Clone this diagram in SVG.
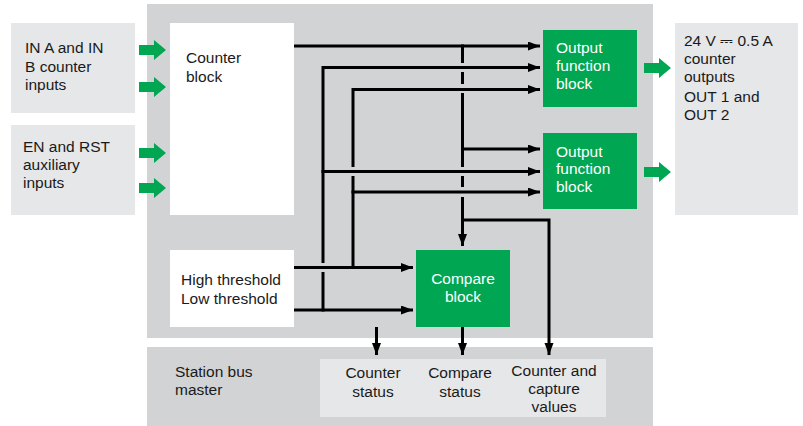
<svg xmlns="http://www.w3.org/2000/svg" width="803" height="426" viewBox="0 0 803 426">
<defs>
<style>
text{font-family:"Liberation Sans",Arial,sans-serif;font-size:15.5px;fill:#1a1a1a}
.wt{fill:#ffffff}
.mid{text-anchor:middle}
.panel{fill:#d1d3d4}
.light{fill:#e6e7e8}
.white{fill:#ffffff}
.green{fill:#00a651}
.ln{stroke:#000;stroke-width:3;fill:none}
.arr{stroke:#000;stroke-width:3;fill:none;marker-end:url(#ah)}
</style>
<marker id="ah" markerUnits="userSpaceOnUse" markerWidth="12" markerHeight="10" refX="12" refY="4.5" orient="auto">
<path d="M0,0 L12,4.5 L0,9 z" fill="#000"/>
</marker>
<path id="garrow" d="M0,-5 L15,-5 L15,-10 L27,0 L15,10 L15,5 L0,5 z" fill="#00a651"/>
</defs>

<rect class="panel" x="147" y="4" width="506" height="334"/>
<rect class="panel" x="147" y="347" width="506" height="79"/>

<g id="in-ab">
<rect class="light" x="11" y="23" width="124" height="90"/>
<text x="25" y="53">IN A and IN</text>
<text x="25" y="72">B counter</text>
<text x="25" y="90">inputs</text>
</g>
<g id="in-en-rst">
<rect class="light" x="11" y="125" width="124" height="90"/>
<text x="23" y="152">EN and RST</text>
<text x="23" y="170">auxiliary</text>
<text x="23" y="188">inputs</text>
</g>
<g id="counter-block">
<rect class="white" x="170" y="23" width="124" height="192"/>
<text x="186" y="63">Counter</text>
<text x="186" y="82">block</text>
</g>
<g id="output-fb-1">
<rect class="green" x="543" y="30" width="94" height="77"/>
<text class="wt" x="556" y="53">Output</text>
<text class="wt" x="556" y="71">function</text>
<text class="wt" x="556" y="89">block</text>
</g>
<g id="output-fb-2">
<rect class="green" x="543" y="133" width="94" height="76"/>
<text class="wt" x="556" y="157">Output</text>
<text class="wt" x="556" y="174">function</text>
<text class="wt" x="556" y="192">block</text>
</g>
<g id="outputs">
<rect class="light" x="675" y="23" width="123" height="192"/>
<text x="684" y="46">24 V ⎓ 0.5 A</text>
<text x="684" y="64">counter</text>
<text x="684" y="82">outputs</text>
<text x="684" y="102">OUT 1 and</text>
<text x="684" y="120">OUT 2</text>
</g>
<g id="thresholds">
<rect class="white" x="170" y="250" width="124" height="77"/>
<text x="181" y="285">High threshold</text>
<text x="181" y="304">Low threshold</text>
</g>
<g id="compare-block">
<rect class="green" x="416" y="250" width="94" height="77"/>
<text class="wt mid" x="463" y="284">Compare</text>
<text class="wt mid" x="463" y="302">block</text>
</g>
<g id="station-bus-master">
<text x="175" y="377">Station bus</text>
<text x="175" y="395">master</text>
</g>
<g id="status-values">
<rect class="light" x="320" y="359" width="286" height="58"/>
<text class="mid" x="373" y="378">Counter</text>
<text class="mid" x="373" y="397">status</text>
<text class="mid" x="460" y="378">Compare</text>
<text class="mid" x="460" y="397">status</text>
<text class="mid" x="554" y="376">Counter and</text>
<text class="mid" x="554" y="394">capture</text>
<text class="mid" x="554" y="412">values</text>
</g>

<g id="connectors">
<use href="#garrow" x="139" y="50"/>
<use href="#garrow" x="139" y="87"/>
<use href="#garrow" x="139" y="153"/>
<use href="#garrow" x="139" y="188"/>
<use href="#garrow" x="644" y="68"/>
<use href="#garrow" x="644" y="172"/>

<line class="arr" x1="294" y1="46" x2="540" y2="46"/>
<path class="arr" d="M323,263 V67.5 H540"/>
<path class="ln" d="M323,272 V311.5"/>
<path class="arr" d="M353,167 V89.5 H540"/>
<path class="ln" d="M353,176 V269"/>
<line class="arr" x1="461" y1="149" x2="540" y2="149"/>
<line class="arr" x1="321.5" y1="171.5" x2="540" y2="171.5"/>
<line class="arr" x1="351.5" y1="192" x2="540" y2="192"/>

<path class="ln" d="M462.5,44.5 V63 M462.5,72 V84 M462.5,93 V167 M462.5,176 V187 M462.5,197 V230"/>
<line class="arr" x1="462.5" y1="228" x2="462.5" y2="246"/>
<polyline class="arr" points="461,220 549,220 549,355"/>

<line class="arr" x1="294" y1="267.5" x2="413" y2="267.5"/>
<line class="arr" x1="294" y1="310" x2="413" y2="310"/>
<line class="arr" x1="376.5" y1="327" x2="376.5" y2="355"/>
<line class="arr" x1="462.5" y1="327" x2="462.5" y2="355"/>
</g>
</svg>
